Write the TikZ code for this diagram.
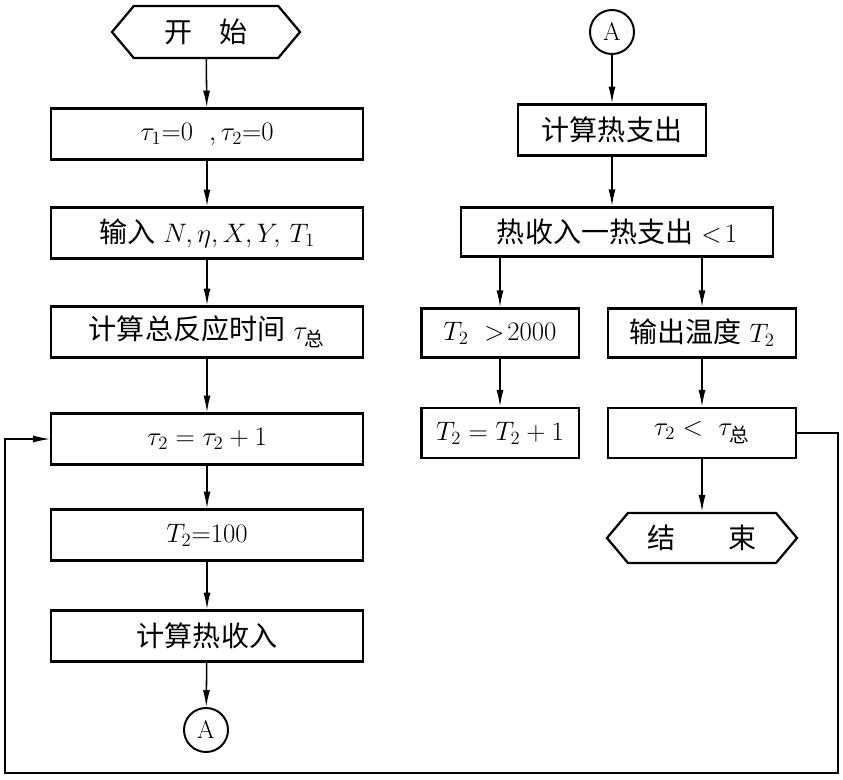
\RequirePackage{fix-cm}
\documentclass[tikz,border=0pt]{standalone}
\usepackage{amsmath}
\usepackage{fontspec}
\newfontfamily\cjk[Scale=1.05]{Noto Sans CJK SC}
\usepackage{tikz}
\usetikzlibrary{arrows,arrows.meta,shapes,positioning}

\begin{document}
\begin{tikzpicture}[
x=0.025cm, y=-0.025cm,
box/.style={
	rectangle,
	draw,
	line width=1.6pt,
	minimum width=7.8cm,
	minimum height=1.27cm,
	inner sep=0pt,
	font=\fontsize{19}{22}\selectfont},
term/.style={
	signal,
	signal to=west and east,
	signal pointer angle=100,
	draw,
	line width=1.6pt,
	minimum width=4.7cm,
	minimum height=1.3cm,
	inner sep=0pt,
	font=\fontsize{19}{22}\selectfont},
con/.style={
	circle,
	draw,
	line width=1.4pt,
	minimum size=1.1cm,
	inner sep=0pt,
	font=\fontsize{18}{21}\selectfont},
post/.style={
	->,
	draw,
	>={Latex[length=12pt,width=5pt]},
	line width=1.1pt},
back/.style={
	->,
	draw,
	>={Latex[length=12pt,width=5pt]},
	line width=0.8pt}]

\useasboundingbox (0,0) rectangle (843,780);

%Left column

\node[term] (start) at (206,32) {{\cjk 开}\quad{\cjk 始}};
\node[box] (init) at (207,134) {$\tau_1{=}0\ \ ,\tau_2{=}0$};
\node[box] (input) at (207,233) {{\cjk 输入} $N,\eta,X,Y,\,T_1$};
\node[box] (total) at (207,332) {{\cjk 计算总反应时间} $\tau_{\text{\cjk 总}}$};
\node[box] (incr) at (207,439) {$\tau_2=\tau_2+1$};
\node[box] (settemp) at (207,535) {$T_2{=}100$};
\node[box] (heatin) at (207,636) {\cjk 计算热收入};
\node[con] (conA) at (206,730) {A};

\path[post] (start) to (init);
\path[post] (init) to (input);
\path[post] (input) to (total);
\path[post] (total) to (incr);
\path[post] (incr) to (settemp);
\path[post] (settemp) to (heatin);
\path[post] (heatin) to (conA);

%Right column

\node[con] (conB) at (612,32) {A};
\node[box, minimum width=4.7cm] (heatout) at (612,130) {\cjk 计算热支出};
\node[box, minimum height=1.23cm] (check) at (617,232) {{\cjk 热收入一热支出} $<\!1$};
\node[box, minimum width=3.93cm, minimum height=1.23cm] (over) at (500,333) {$T_2\ >\!2000$};
\node[box, minimum width=4.7cm, minimum height=1.23cm] (output) at (702,333) {{\cjk 输出温度} $T_2$};
\node[box, minimum width=3.93cm, minimum height=1.25cm] (tempup) at (500,433) {$T_2=T_2+1$};
\node[box, minimum width=4.7cm, minimum height=1.25cm] (loop) at (702,433) {$\tau_2<\ \tau_{\text{\cjk 总}}$};
\node[term, minimum width=4.75cm, minimum height=1.25cm] (finish) at (702,538) {{\cjk 结}\qquad{\cjk 束}};

\path[post] (conB) to (heatout);
\path[post] (heatout) to (heatout |- check.north);
\path[post] (check.south -| over) to (over);
\path[post] (check.south -| output) to (output);
\path[post] (over) to (tempup);
\path[post] (output) to (loop);
\path[post] (loop) to (finish);

%Feedback

\coordinate (cornerR) at (838,773);
\coordinate (cornerL) at (5,773);
\path[back] (loop.east) -| (cornerR) -- (cornerL) |- (incr.west);

\end{tikzpicture}
\end{document}
